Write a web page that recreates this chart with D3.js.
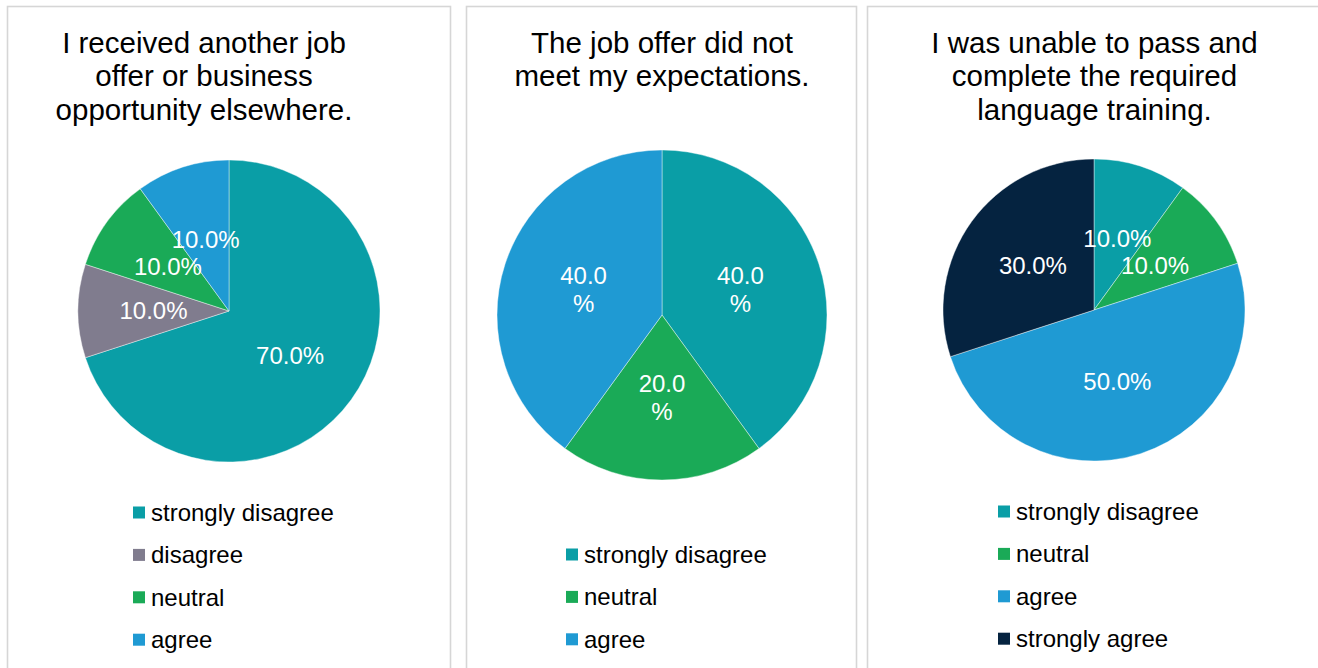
<!DOCTYPE html>
<html>
<head>
<meta charset="utf-8">
<script src="https://cdn.jsdelivr.net/npm/d3@7"></script>
<style>
  html, body { margin: 0; padding: 0; background: #fff; }
  svg { display: block; font-family: "Liberation Sans", Arial, sans-serif; }
</style>
</head>
<body>
<svg id="chart" width="1318" height="668"></svg>
<script>
// Survey responses (percent of respondents) for three reasons
const titleOffer = ["I received another job", "offer or business", "opportunity elsewhere."];
const catsOffer = ["strongly disagree", "disagree", "neutral", "agree"];
const valsOffer = [70, 10, 10, 10];

const titleExpect = ["The job offer did not", "meet my expectations."];
const catsExpect = ["strongly disagree", "neutral", "agree"];
const valsExpect = [40, 20, 40];

const titleLang = ["I was unable to pass and", "complete the required", "language training."];
const catsLang = ["strongly disagree", "neutral", "agree", "strongly agree"];
const valsLang = [10, 10, 50, 30];

const colorScale = d3.scaleOrdinal()
  .domain(["strongly disagree", "disagree", "neutral", "agree", "strongly agree"])
  .range(["#0A9EA6", "#807C8E", "#1AAA57", "#1F9AD3", "#052340"]);

const panels = [
  { x0: 7, x1: 450, title: titleOffer, titleX: 204, cats: catsOffer, vals: valsOffer,
    cx: 229, cy: 311, r: 151, splitLabel: false, legendX: 133, legendY: 512.5 },
  { x0: 466, x1: 856, title: titleExpect, titleX: 662, cats: catsExpect, vals: valsExpect,
    cx: 662, cy: 315, r: 165, splitLabel: true, legendX: 566, legendY: 554.5 },
  { x0: 867, x1: 1330, title: titleLang, titleX: 1094.5, cats: catsLang, vals: valsLang,
    cx: 1094, cy: 310, r: 151, splitLabel: false, legendX: 998, legendY: 511.5 }
];

const svg = d3.select("#chart");
const fmt = d3.format(".1f");
const pie = d3.pie().sort(null).value(d => d.v);

panels.forEach(p => {
  const g = svg.append("g");

  // panel frame
  g.append("rect")
    .attr("x", p.x0 + 0.5).attr("y", 6.5)
    .attr("width", p.x1 - p.x0).attr("height", 700)
    .attr("fill", "#fff").attr("stroke", "#D6D6D6").attr("stroke-width", 1.6);

  // title
  const t = g.append("text")
    .attr("x", p.titleX).attr("y", 53)
    .attr("text-anchor", "middle")
    .attr("font-size", 29.5).attr("fill", "#000");
  p.title.forEach((line, i) => {
    t.append("tspan").attr("x", p.titleX).attr("dy", i === 0 ? 0 : 33.3).text(line);
  });

  const data = p.cats.map((c, i) => ({ c, v: p.vals[i] }));
  const arcs = pie(data);
  const arc = d3.arc().innerRadius(0).outerRadius(p.r);
  const total = d3.sum(p.vals);

  const pg = g.append("g").attr("transform", `translate(${p.cx},${p.cy})`);
  pg.selectAll("path.slice")
    .data(arcs).join("path")
    .attr("class", "slice")
    .attr("d", arc)
    .attr("fill", d => colorScale(d.data.c))
    .attr("stroke", "rgba(255,255,255,0.55)")
    .attr("stroke-width", 0.75);

  // value labels at slice centroids
  pg.selectAll("text.lbl")
    .data(arcs).join("text")
    .attr("class", "lbl")
    .attr("text-anchor", "middle")
    .attr("font-size", 24)
    .attr("fill", "#fff")
    .each(function (d) {
      const [x, y] = arc.centroid(d);
      const s = fmt(d.data.v / total * 100);
      const el = d3.select(this);
      if (p.splitLabel) {
        el.append("tspan").attr("x", x).attr("y", y - 13.5).attr("dy", "0.35em").text(s);
        el.append("tspan").attr("x", x).attr("y", y + 14).attr("dy", "0.35em").text("%");
      } else {
        el.attr("x", x).attr("y", y).attr("dy", "0.35em").text(s + "%");
      }
    });

  // legend
  const lg = g.append("g");
  const rows = lg.selectAll("g").data(p.cats).join("g")
    .attr("transform", (d, i) => `translate(${p.legendX},${p.legendY + i * 42.4})`);
  rows.append("rect")
    .attr("x", 0).attr("y", -6).attr("width", 12).attr("height", 12)
    .attr("fill", d => colorScale(d));
  rows.append("text")
    .attr("x", 18).attr("y", 0).attr("dy", "0.35em")
    .attr("font-size", 24).attr("fill", "#000")
    .text(d => d);
});
</script>
</body>
</html>
